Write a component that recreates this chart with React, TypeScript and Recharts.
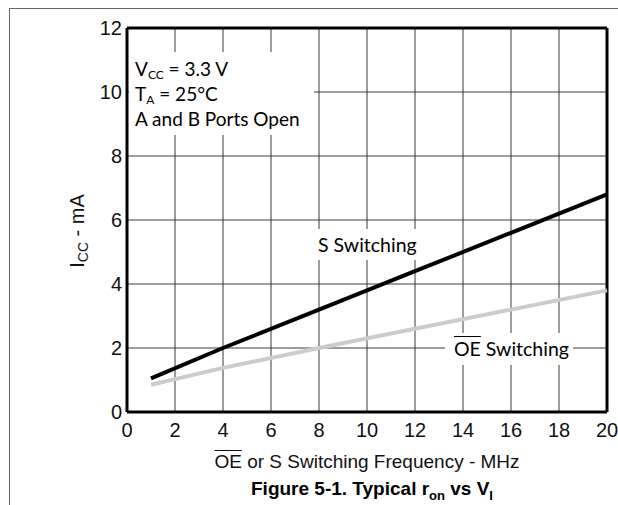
import React from 'react'
import { LineChart, Line, XAxis, YAxis, CartesianGrid, ReferenceLine } from 'recharts'

// frequency points (MHz) and supply current (mA)
const freqMHz = [1, 4, 8, 12, 16, 20]
const sSwitching = [1.05, 2.0, 3.2, 4.4, 5.6, 6.8]
const oeSwitching = [0.85, 1.38, 2.0, 2.6, 3.2, 3.8]

const xTicks = [0, 2, 4, 6, 8, 10, 12, 14, 16, 18, 20]
const yTicks = [0, 2, 4, 6, 8, 10, 12]

const data = freqMHz.map((f, i) => ({ freq: f, s: sSwitching[i], oe: oeSwitching[i] }))

const arial = '"Liberation Sans", Arial, sans-serif'
const labelFont = '"Lato", "Open Sans", sans-serif'
const tickFont = { fontSize: 20, fill: '#111', fontFamily: arial }

const Sub = ({ children, size = 12, drop = 3 }: { children: React.ReactNode; size?: number; drop?: number }) => (
  <span style={{ fontSize: size, position: 'relative', top: drop, lineHeight: 0 }}>{children}</span>
)

export default function App() {
  return (
    <div style={{ position: 'absolute', left: 0, top: 0, width: 618, height: 505, background: '#fff' }}>
      <LineChart
        width={618}
        height={505}
        data={data}
        margin={{ top: 28, right: 11, left: 0, bottom: 0 }}
      >
        <CartesianGrid stroke="#3a3a3a" strokeWidth={1} />
        <XAxis
          type="number"
          dataKey="freq"
          domain={[0, 20]}
          ticks={xTicks}
          tick={tickFont}
          tickLine={false}
          axisLine={false}
          tickSize={0}
          tickMargin={11}
          height={93}
          interval={0}
        />
        <YAxis
          type="number"
          domain={[0, 12]}
          ticks={yTicks}
          tick={tickFont}
          tickLine={false}
          axisLine={false}
          tickSize={0}
          tickMargin={5}
          width={127}
          interval={0}
        />
        <ReferenceLine x={0} stroke="#000" strokeWidth={3} />
        <ReferenceLine x={20} stroke="#000" strokeWidth={3} />
        <ReferenceLine y={0} stroke="#000" strokeWidth={3} />
        <ReferenceLine y={12} stroke="#000" strokeWidth={3} />
        <Line
          type="linear"
          dataKey="oe"
          stroke="#cccccc"
          strokeWidth={4}
          dot={false}
          isAnimationActive={false}
        />
        <Line
          type="linear"
          dataKey="s"
          stroke="#000"
          strokeWidth={4}
          dot={false}
          isAnimationActive={false}
        />
      </LineChart>

      {/* outer figure border */}
      <div style={{ position: 'absolute', left: 9, top: 8, width: 609, height: 1, background: '#666' }} />
      <div style={{ position: 'absolute', left: 9, top: 8, width: 1, height: 497, background: '#666' }} />

      {/* conditions box */}
      <div
        style={{
          position: 'absolute', left: 129, top: 52, width: 185, height: 83,
          background: '#fff', fontFamily: labelFont, fontSize: 19, lineHeight: '25px',
          paddingTop: 4, paddingLeft: 6, boxSizing: 'border-box', color: '#000', whiteSpace: 'nowrap',
        }}
      >
        <div style={{ height: 25 }}>V<Sub>CC</Sub> = 3.3 V</div>
        <div style={{ height: 25 }}>T<Sub>A</Sub> = 25°C</div>
        <div style={{ height: 25 }}>A and B Ports Open</div>
      </div>

      {/* series labels */}
      <div
        style={{
          position: 'absolute', left: 315, top: 229, width: 108, height: 31, background: '#fff',
          fontFamily: labelFont, fontSize: 19.5, lineHeight: '31px', paddingLeft: 3, boxSizing: 'border-box',
          whiteSpace: 'nowrap',
        }}
      >
        S Switching
      </div>
      <div
        style={{
          position: 'absolute', left: 445, top: 333, width: 128, height: 32, background: '#fff',
          fontFamily: labelFont, fontSize: 19.5, lineHeight: '32px', paddingLeft: 9, boxSizing: 'border-box',
          whiteSpace: 'nowrap',
        }}
      >
        <span style={{ textDecoration: 'overline' }}>OE</span> Switching
      </div>

      {/* axis titles */}
      <div style={{ position: 'absolute', left: 77, top: 231, width: 0, height: 0 }}>
        <div
          style={{
            position: 'absolute', left: 0, top: 0, transform: 'translate(-50%, -50%) rotate(-90deg)',
            fontFamily: arial, fontSize: 20, lineHeight: '24px', whiteSpace: 'nowrap', color: '#111',
          }}
        >
          I<Sub size={14} drop={4}>CC</Sub> - mA
        </div>
      </div>
      <div
        style={{
          position: 'absolute', left: 127, top: 450, width: 480, textAlign: 'center',
          fontFamily: arial, fontSize: 19, lineHeight: '24px', whiteSpace: 'nowrap', color: '#111',
        }}
      >
        <span style={{ textDecoration: 'overline' }}>OE</span> or S Switching Frequency - MHz
      </div>
      <div
        style={{
          position: 'absolute', left: 132, top: 477, width: 480, textAlign: 'center',
          fontFamily: arial, fontSize: 19, fontWeight: 'bold', lineHeight: '24px', whiteSpace: 'nowrap',
        }}
      >
        Figure 5-1. Typical r<Sub size={13} drop={5}>on</Sub> vs V<Sub size={13} drop={5}>I</Sub>
      </div>
    </div>
  )
}
